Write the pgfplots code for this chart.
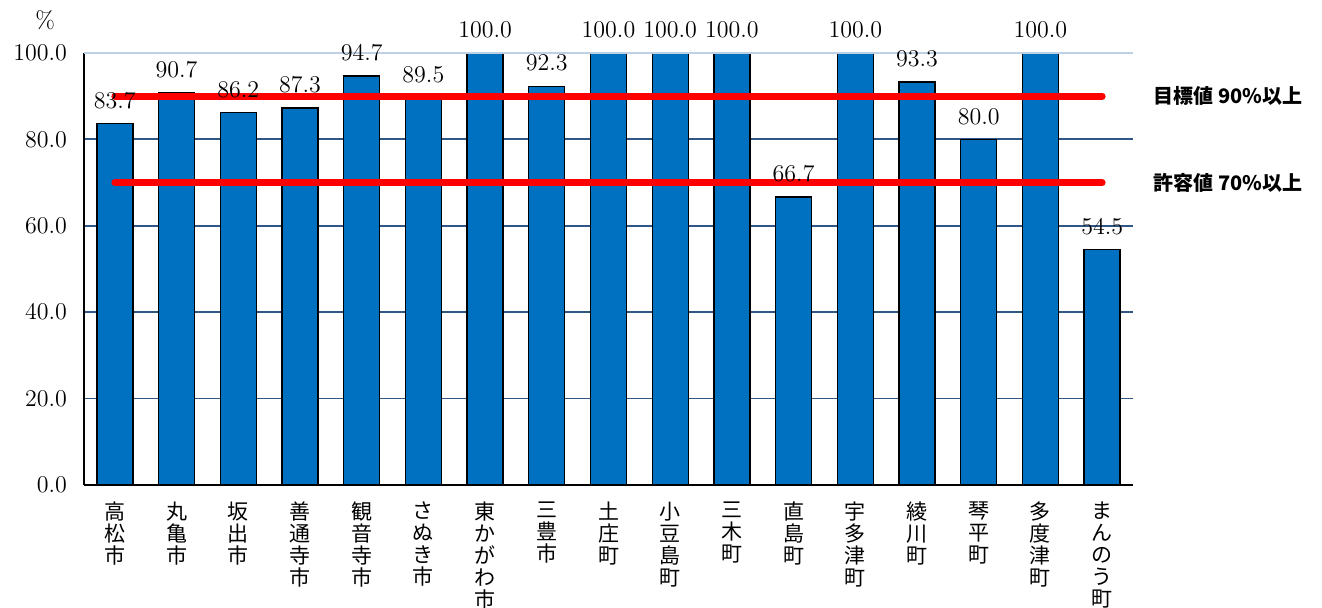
\documentclass[border=0pt]{standalone}
\usepackage{fontspec}
\usepackage{pgfplots}
\pgfplotsset{compat=1.18}
\newfontfamily\jp{Noto Sans CJK JP}
\definecolor{barblue}{HTML}{0070C0}
\definecolor{gridnavy}{HTML}{2F5685}
\definecolor{toplight}{HTML}{BDD0E6}
\begin{document}
\begin{tikzpicture}
\path[use as bounding box] (0,0) rectangle (661pt,304pt);
\begin{axis}[
  at={(42pt,61.5pt)}, anchor=south west,
  scale only axis, width=524.5pt, height=216pt,
  xmin=-0.5, xmax=16.5, ymin=0, ymax=100,
  axis x line*=bottom, axis y line*=left,
  axis line style={black, line width=1pt, -},
  tick style={draw=none},
  ytick={0,20,40,60,80,100},
  yticklabel={\pgfmathprintnumber[fixed,fixed zerofill,precision=1]{\tick}},
  yticklabel style={font=\fontsize{12}{14}\selectfont, xshift=-5pt},
  ymajorgrids, grid style={gridnavy, line width=0.9pt},
  xtick={0,...,16},
  xticklabels={{高\\松\\市},{丸\\亀\\市},{坂\\出\\市},{善\\通\\寺\\市},{観\\音\\寺\\市},{さ\\ぬ\\き\\市},{東\\か\\が\\わ\\市},{三\\豊\\市},{土\\庄\\町},{小\\豆\\島\\町},{三\\木\\町},{直\\島\\町},{宇\\多\\津\\町},{綾\\川\\町},{琴\\平\\町},{多\\度\\津\\町},{ま\\ん\\の\\う\\町}},
  xticklabel style={align=center, anchor=north, yshift=-5pt, font=\jp\fontsize{10.5}{11}\selectfont},
  clip=false,
]
\addplot[ybar, bar width=18pt, fill=barblue, draw=black, line width=0.7pt,
  nodes near coords={\pgfmathprintnumber[fixed,fixed zerofill,precision=1]{\pgfplotspointmeta}},
  nodes near coords style={font=\fontsize{12}{14}\selectfont, black, yshift=4pt}]
  coordinates {(0,83.7) (1,90.7) (2,86.2) (3,87.3) (4,94.7) (5,89.5) (6,100) (7,92.3)
    (8,100) (9,100) (10,100) (11,66.7) (12,100) (13,93.3) (14,80.0) (15,100) (16,54.5)};
% light top grid line at 100
\addplot[toplight, line width=0.8pt] coordinates {(-0.5,100) (16.5,100)};
% target and tolerance thresholds
\addplot[red, line width=3.5pt, line cap=round] coordinates {(0,90) (16,90)};
\addplot[red, line width=3.5pt, line cap=round] coordinates {(0,70) (16,70)};
\node[anchor=west, font=\jp\bfseries\fontsize{10}{12}\selectfont] at (axis cs:16.72,90) {目標値 90\%以上};
\node[anchor=west, font=\jp\bfseries\fontsize{10}{12}\selectfont] at (axis cs:16.72,70) {許容値 70\%以上};
\node[font=\fontsize{12}{14}\selectfont] at (rel axis cs:-0.037,1.076) {\%};
\end{axis}
\end{tikzpicture}
\end{document}
